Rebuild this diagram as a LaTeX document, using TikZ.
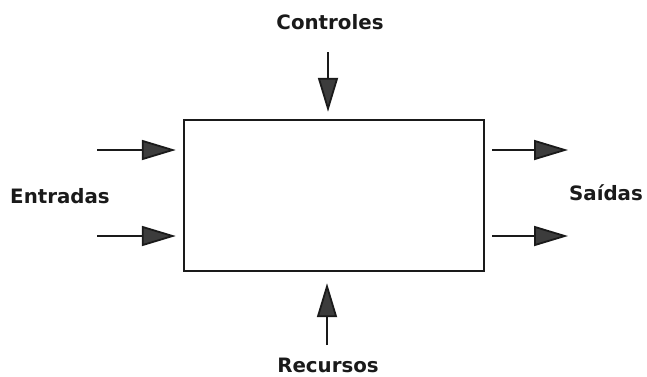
\documentclass[tikz,border=0pt]{standalone}
\usepackage{fontspec}
\setmainfont{DejaVu Sans}
\usetikzlibrary{arrows.meta, positioning}
\definecolor{HeadGray}{HTML}{3C3C3C}
\definecolor{InkBlack}{HTML}{1A1A1A}

\begin{document}
\begin{tikzpicture}[x=1pt, y=-1pt,
    flow/.style={-{Triangle[length=34pt, width=20pt, fill=HeadGray]},
                 line width=1.8pt, draw=InkBlack},
    caption/.style={font=\fontsize{19.8}{22}\selectfont\bfseries, text=InkBlack}]
    \useasboundingbox (0,0) rectangle (647,376);

    % Process box
    \node[draw=InkBlack, line width=2.4pt, minimum width=300pt,
          minimum height=151pt] (proc) at (334,195.5) {};

    % Labels
    \node[caption] (ctrl) at (330,22) {Controles};
    \node[caption] (entr) at (60,196) {Entradas};
    \node[caption] (said) at (606,193) {Saídas};
    \node[caption] (recu) at (328,365) {Recursos};

    % Arrow ends
    \coordinate (in1) at (97,150);
    \coordinate (in2) at (97,236);
    \coordinate (out1) at (568,150);
    \coordinate (out2) at (568,236);
    \coordinate (ctl) at (328,52);
    \coordinate (rec) at (327,345);

    % Inputs and outputs
    \foreach \c in {in1, in2} {
        \draw[flow, shorten >=7pt] (\c) -- (\c -| proc.west);
    }
    \foreach \c in {out1, out2} {
        \draw[flow, shorten <=7pt] (\c -| proc.east) -- (\c);
    }

    % Controls and resources
    \draw[flow, shorten >=7pt] (ctl) -- (ctl |- proc.north);
    \draw[flow, shorten >=11pt] (rec) -- (rec |- proc.south);
\end{tikzpicture}
\end{document}
